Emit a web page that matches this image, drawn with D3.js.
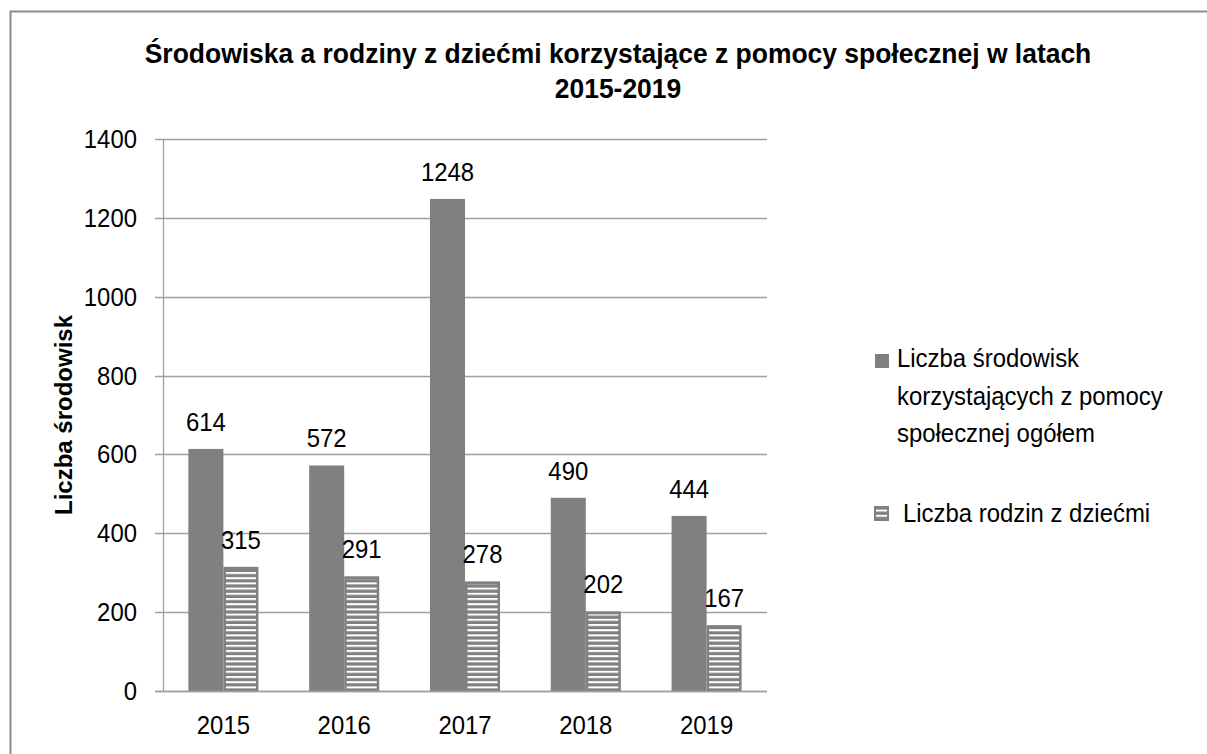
<!DOCTYPE html>
<meta charset="utf-8">
<style>
body { margin: 0; background: #fff; }
svg text { font-family: "Liberation Sans", Arial, sans-serif; fill: #000; }
</style>
<svg id="chart" width="1207" height="754"></svg>
<script src="https://cdn.jsdelivr.net/npm/d3@7"></script>
<script>

var years = ["2015", "2016", "2017", "2018", "2019"];
var ogolem = [614, 572, 1248, 490, 444];
var rodziny = [315, 291, 278, 202, 167];
var seriesNames = ["Liczba środowisk korzystających z pomocy społecznej ogółem", "Liczba rodzin z dziećmi"];
var yTicks = [0, 200, 400, 600, 800, 1000, 1200, 1400];

var gray = "#808080",
    grid = "#a0a0a0",
    sx = 0.92; // text in the picture is squeezed horizontally

var svg = d3.select("#chart");

var y = d3.scaleLinear().domain([0, 1400]).range([691, 139]);
var x = d3.scaleBand().domain(years).range([163, 767])
    .paddingInner(0.42).paddingOuter(0.21);
var x1 = d3.scaleBand().domain(["ogolem", "rodziny"]).range([0, x.bandwidth()]);

// stripes for the second series
var defs = svg.append("defs");
defs.append("pattern")
    .attr("id", "stripes")
    .attr("patternUnits", "userSpaceOnUse")
    .attr("width", 10).attr("height", 5.2)
  .append("rect")
    .attr("width", 10).attr("height", 2)
    .attr("fill", "#fff");

function txt(g, px, py, s, size, anchor, weight, scale) {
  return g.append("text")
      .attr("transform", "translate(" + px + "," + py + ") scale(" + (scale || sx) + ",1)")
      .attr("text-anchor", anchor || "middle")
      .style("font-size", size + "px")
      .style("font-weight", weight || "normal")
      .text(s);
}

// outer frame (only top and left edges are inside the picture)
svg.append("path")
    .attr("d", "M10.5,754V11.5H1207")
    .attr("fill", "none").attr("stroke", "#8c8c8c").attr("stroke-width", 2);

// title
txt(svg, 618, 63, "Środowiska a rodziny z dziećmi korzystające z pomocy społecznej w latach", 27, "middle", "bold", 0.98);
txt(svg, 618, 98, "2015-2019", 27, "middle", "bold", 0.98);

// grid + y ticks
var gy = svg.append("g");
gy.selectAll("line").data(yTicks).enter().append("line")
    .attr("x1", 155).attr("x2", 767)
    .attr("y1", function(d) { return Math.round(y(d)) + 0.5; })
    .attr("y2", function(d) { return Math.round(y(d)) + 0.5; })
    .attr("stroke", grid).attr("stroke-width", 1.3);
yTicks.forEach(function(d) {
  txt(gy, 137, y(d) + 9, d, 26, "end");
});

svg.append("line")
    .attr("x1", 163.5).attr("x2", 163.5)
    .attr("y1", y(1400)).attr("y2", y(0))
    .attr("stroke", grid).attr("stroke-width", 1.3);

// y axis title
svg.append("text")
    .attr("transform", "translate(72," + ((y(0) + y(1400)) / 2) + ") rotate(-90)")
    .attr("text-anchor", "middle")
    .style("font-size", "24px")
    .style("font-weight", "bold")
    .text("Liczba środowisk");

// bars
var groups = svg.selectAll("g.year").data(years).enter().append("g")
    .attr("class", "year")
    .attr("transform", function(d) { return "translate(" + x(d) + ",0)"; });

groups.append("rect")
    .attr("x", x1("ogolem"))
    .attr("y", function(d, i) { return y(ogolem[i]); })
    .attr("width", x1.bandwidth())
    .attr("height", function(d, i) { return y(0) - y(ogolem[i]); })
    .attr("fill", gray);

groups.append("rect")
    .attr("x", x1("rodziny"))
    .attr("y", function(d, i) { return y(rodziny[i]); })
    .attr("width", x1.bandwidth())
    .attr("height", function(d, i) { return y(0) - y(rodziny[i]); })
    .attr("fill", gray);

groups.append("rect")
    .attr("x", x1("rodziny") + 2.5)
    .attr("y", function(d, i) { return y(rodziny[i]) + 3; })
    .attr("width", x1.bandwidth() - 5)
    .attr("height", function(d, i) { return y(0) - y(rodziny[i]) - 5; })
    .attr("fill", "url(#stripes)");

groups.each(function(d, i) {
  var g = d3.select(this);
  txt(g, x1("ogolem") + x1.bandwidth() / 2, y(ogolem[i]) - 18, ogolem[i], 26);
  txt(g, x1("rodziny") + x1.bandwidth() / 2, y(rodziny[i]) - 18, rodziny[i], 26);
  txt(g, x.bandwidth() / 2, 734, d, 26);
});

// x axis line
svg.append("line")
    .attr("x1", 155).attr("x2", 767)
    .attr("y1", Math.round(y(0)) + 0.5).attr("y2", Math.round(y(0)) + 0.5)
    .attr("stroke", grid).attr("stroke-width", 1.3);

// legend
var lg = svg.append("g");
lg.append("rect")
    .attr("x", 875).attr("y", 354).attr("width", 14).attr("height", 14)
    .attr("fill", gray);
["Liczba środowisk", "korzystających z pomocy", "społecznej ogółem"].forEach(function(s, i) {
  txt(lg, 897, 367 + i * 37.5, s, 26, "start");
});

lg.append("rect")
    .attr("x", 874).attr("y", 506).attr("width", 15).attr("height", 15)
    .attr("fill", gray);
lg.append("rect")
    .attr("x", 876).attr("y", 509).attr("width", 11).attr("height", 10)
    .attr("fill", "url(#stripes)");
txt(lg, 903, 522, seriesNames[1], 26, "start");

</script>
